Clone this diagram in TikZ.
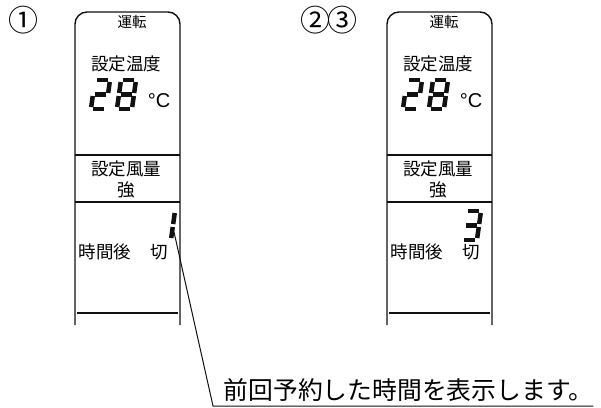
\documentclass[tikz,border=0pt]{standalone}
\usepackage{fontspec}
\setmainfont{Noto Sans CJK JP}
\newfontfamily\latinsans{Liberation Sans}
\usepackage{tikz}
\usetikzlibrary{positioning}
\usepackage{xcolor}
\definecolor{inkdark}{HTML}{111111}

% segment lists of the slanted LCD digits (cell 15 x 29)
\def\digitone{15/2/15/13, 15/16/15/27}
\def\digittwo{2/0/13/0, 15/2/15/13, 2/14.5/13/14.5, 0/16/0/27, 2/29/13/29}
\def\digitthree{2/0/13/0, 15/2/15/13, 2/14.5/13/14.5, 15/16/15/27, 2/29/13/29}
\def\digiteight{2/0/13/0, 15/2/15/13, 2/14.5/13/14.5, 15/16/15/27, 2/29/13/29, 0/2/0/13, 0/16/0/27}
\newcommand\lcddigit[3]{%
  \begin{scope}[shift={(#1,#2)}, xslant=0.14]
    \foreach \xa/\ya/\xb/\yb in #3
      \draw[lcdseg] (\xa,\ya) -- (\xb,\yb);
  \end{scope}}

\begin{document}
\begin{tikzpicture}[x=1pt, y=-1pt,
    panel/.style={inkdark, line width=1.4pt},
    lcdseg/.style={inkdark, line width=4.5pt, line cap=butt},
    tinytxt/.style={inner sep=0pt, font=\fontsize{14.5}{16}\selectfont},
    paneltxt/.style={inner sep=0pt, font=\fontsize{17.5}{20}\selectfont},
    marktxt/.style={inner sep=0pt, font=\fontsize{30}{32}\selectfont},
    degtxt/.style={inner sep=0pt, font=\latinsans\fontsize{20}{22}\selectfont},
    notetxt/.style={inner xsep=0pt, inner ysep=4pt, font=\fontsize{24.8}{28}\selectfont},
    leader/.style={inkdark, line width=1pt}]
  \useasboundingbox (0,0) rectangle (601,407);

  % step marks
  \node[marktxt] (mark1) at (24,20) {①};
  \node[marktxt] (mark23) at (329,20) {②\kern-3pt③};

  % the two remote displays
  \foreach \px/\pn in {75/1, 387/2} {
    \draw[panel, rounded corners=12pt] (\px,325) -- (\px,12) -- (\px+105,12) -- (\px+105,325);
    \draw[panel] (\px,155) -- ++(105,0);
    \draw[panel] (\px,202) -- ++(105,0);
    \draw[panel] (\px+2,313) -- ++(101,0);
    \node[tinytxt] (run\pn) at (\px+57,22) {運転};
    \node[paneltxt] (settemp\pn) at (\px+51,64) {設定温度};
    \lcddigit{\px+20}{80}{\digittwo}
    \lcddigit{\px+46}{80}{\digiteight}
    \node[degtxt] (deg\pn) at (\px+84,101) {°C};
    \node[paneltxt] (setfan\pn) at (\px+51,169) {設定風量};
    \node[paneltxt] (fan\pn) at (\px+51,190) {強};
    \node[paneltxt] (hours\pn) at (\px+30,252) {時間後};
    \node[paneltxt] (off\pn) at (\px+84,252) {切};
  }

  % timer digits
  \lcddigit{160}{211}{\digitone}
  \lcddigit{466}{211}{\digitthree}

  % note with leader
  \coordinate (tip) at (174,232);
  \node[notetxt, anchor=south west, text width=380pt, align=right] (note) at (213,406) {前回予約した時間を表示します。};
  \draw[leader] (tip) -- (note.south west) -- (note.south east);
\end{tikzpicture}
\end{document}
